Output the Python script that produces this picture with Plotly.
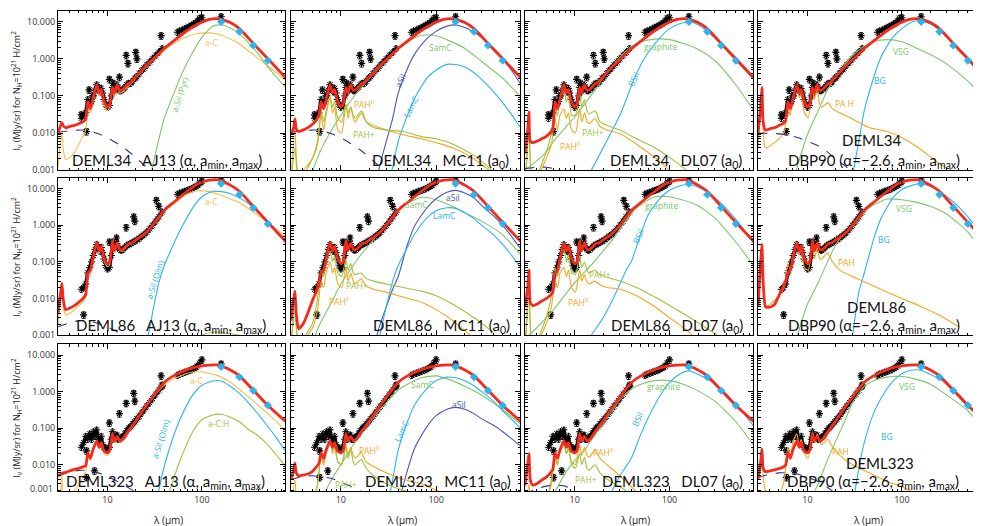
import plotly.graph_objects as go

# ---------------------------------------------------
# wavelength grids (micron)
# ---------------------------------------------------
LAM_SHORT = [3.0, 3.2, 3.3, 3.4, 3.6, 4.0, 4.5, 5.0, 5.5, 5.9]
LAM_LONG = [6.2, 6.6, 7.0, 7.7, 8.2, 8.6, 9.2, 10.0, 10.6, 11.3, 11.8, 12.7, 13.5, 14.5, 16.4,
            17.0, 18.0, 20, 24, 30, 40, 50, 70, 90, 120, 150, 200, 250, 350, 500, 800]
LAM_T = LAM_SHORT + LAM_LONG
LAM_P = [3.0, 3.3, 3.6, 5.0, 5.7, 6.2, 6.6, 7.0, 7.7, 8.2, 8.6, 9.3, 10.2, 11.3, 11.9, 12.7,
         13.5, 14.2, 16.4, 17.0, 18.5, 22, 30, 45, 70, 100, 150, 250, 400]
LAM_C = [3, 4, 5, 6, 8, 10, 13, 16, 20, 25, 30, 40, 50, 70, 100, 140, 200, 300, 500, 800]
LAM_B = [15, 20, 25, 30, 35, 40, 50, 60, 80, 100, 130, 160, 200, 250, 300, 400, 500, 600, 800]
LAM_S = [3, 4, 5, 6, 8, 10, 13, 16, 20, 25, 30, 40]
SPEC_LAM = [5.3, 5.6, 5.9, 6.2, 6.5, 6.8, 7.1, 7.4, 7.7, 8.0, 8.3, 8.6, 8.9, 9.2, 9.6, 10.0, 10.5,
            11.0, 11.3, 11.7, 12.1, 12.6, 13.0, 13.5, 14.0, 14.6, 15.3, 16.0, 16.8, 17.6, 18.5,
            19.5, 20.5, 21.7, 23.0, 24.5, 26, 28, 30, 32.5, 35, 38]
MIPS_LAM = [55, 58, 62, 66, 70, 74, 78, 82, 86, 90, 94]
PHOT_LAM = [160, 250, 350, 500]

# ---------------------------------------------------
# observations (MJy/sr for NH = 1e21 H/cm2)
# ---------------------------------------------------
SPEC_34 = [0.025, 0.03, 0.035, 0.08, 0.06, 0.07, 0.1, 0.14, 0.2, 0.17, 0.13, 0.16, 0.12, 0.08, 0.06,
           0.05, 0.055, 0.1, 0.17, 0.13, 0.15, 0.2, 0.16, 0.14, 0.14, 0.15, 0.17, 0.2, 0.22, 0.22,
           0.25, 0.3, 0.33, 0.4, 0.48, 0.56, 0.68, 0.82, 1.0, 1.25, 1.5, 1.9]
SPEC_86 = [0.018, 0.02, 0.025, 0.05, 0.07, 0.1, 0.15, 0.22, 0.3, 0.25, 0.2, 0.25, 0.18, 0.12, 0.08,
           0.065, 0.07, 0.15, 0.35, 0.25, 0.28, 0.32, 0.25, 0.22, 0.21, 0.22, 0.25, 0.28, 0.3, 0.32,
           0.34, 0.37, 0.4, 0.44, 0.5, 0.56, 0.65, 0.8, 1.0, 1.3, 1.7, 2.3]
SPEC_323 = [0.03, 0.04, 0.06, 0.05, 0.07, 0.05, 0.08, 0.06, 0.09, 0.05, 0.04, 0.06, 0.035, 0.03,
            0.028, 0.025, 0.03, 0.05, 0.08, 0.05, 0.06, 0.065, 0.05, 0.05, 0.055, 0.06, 0.07, 0.085,
            0.1, 0.11, 0.13, 0.15, 0.18, 0.21, 0.26, 0.32, 0.4, 0.5, 0.65, 0.85, 1.1, 1.4]
MIPS_34 = [5.2, 5.6, 6.0, 6.5, 7.0, 7.5, 8.0, 8.7, 9.3, 10.5, 12.5]
MIPS_86 = [7.0, 7.5, 8.0, 8.5, 9.0, 9.5, 10, 10.8, 11.5, 12.3, 13.5]
MIPS_323 = [2.8, 3.0, 3.2, 3.4, 3.6, 3.8, 4.0, 4.3, 4.6, 5.0, 6.0]
OUT_LAM_34 = [5.3, 6.0, 6.4, 7.0, 10.5, 11.5, 13.4, 15.8, 16.5, 20, 20.5, 37, 100, 160]
OUT_34 = [0.031, 0.011, 0.145, 0.1, 0.28, 0.22, 0.32, 1.24, 0.75, 1.5, 1.0, 4.2, 12.8, 13.6]
OUT_LAM_86 = [5.6, 10.5, 12.5, 15.8, 19, 19.5, 33, 35, 100, 160]
OUT_86 = [0.0036, 0.35, 0.45, 0.87, 1.7, 1.3, 4.8, 3.3, 16, 17]
OUT_LAM_323 = [6.0, 6.0, 7.3, 10.5, 13.4, 15.8, 19, 19.5, 37, 38, 100, 160]
OUT_323 = [0.024, 0.0045, 0.0068, 0.14, 0.25, 0.48, 0.9, 0.55, 2.7, 1.5, 7.4, 5.7]
PHOT_34 = [10, 5.4, 2.3, 0.9]
PHOT_86 = [13.7, 6.9, 3.0, 1.1]
PHOT_323 = [4.8, 2.5, 1.07, 0.42]

# ---------------------------------------------------
# total models
# ---------------------------------------------------
TOT_L_34 = [0.07, 0.045, 0.08, 0.2, 0.12, 0.15, 0.075, 0.05, 0.06, 0.17, 0.12, 0.2, 0.14, 0.15, 0.21,
            0.22, 0.25, 0.33, 0.55, 0.95, 1.9, 3.0, 5.8, 8.5, 11.5, 12.0, 9.5, 6.5, 2.6, 1.0, 0.28]
TOT_L_86 = [0.05, 0.06, 0.12, 0.33, 0.2, 0.27, 0.13, 0.09, 0.1, 0.38, 0.2, 0.33, 0.22, 0.22, 0.3,
            0.32, 0.33, 0.4, 0.55, 1.0, 2.6, 4.2, 8.5, 13.5, 17.0, 17.5, 12.5, 8.5, 3.3, 1.2, 0.33]
TOT_L_323 = [0.021, 0.015, 0.025, 0.045, 0.03, 0.04, 0.024, 0.021, 0.025, 0.072, 0.045, 0.06, 0.045,
             0.05, 0.08, 0.09, 0.11, 0.16, 0.32, 0.7, 1.8, 2.7, 4.0, 4.8, 5.3, 5.3, 3.9, 2.7, 1.1, 0.42, 0.14]
TOT_S_34 = [[0.0098, 0.016, 0.019, 0.016, 0.014, 0.015, 0.016, 0.018, 0.020, 0.024],
            [0.009, 0.014, 0.024, 0.013, 0.011, 0.012, 0.014, 0.017, 0.022, 0.03],
            [0.0028, 0.012, 0.037, 0.006, 0.0055, 0.006, 0.007, 0.008, 0.01, 0.013],
            [0.01, 0.05, 0.17, 0.02, 0.012, 0.013, 0.014, 0.016, 0.018, 0.022]]
TOT_S_86 = [[0.004, 0.015, 0.026, 0.01, 0.005, 0.0055, 0.0065, 0.008, 0.01, 0.013],
            [0.0025, 0.01, 0.016, 0.004, 0.0015, 0.002, 0.004, 0.0085, 0.015, 0.028],
            [0.006, 0.02, 0.06, 0.008, 0.0065, 0.007, 0.0085, 0.01, 0.012, 0.015],
            [0.006, 0.1, 0.3, 0.03, 0.006, 0.0058, 0.007, 0.012, 0.02, 0.03]]
TOT_S_323 = [[0.005, 0.0055, 0.0058, 0.006, 0.0062, 0.0068, 0.0075, 0.008, 0.0088, 0.0095],
             [0.004, 0.007, 0.011, 0.006, 0.005, 0.0052, 0.0056, 0.0065, 0.0085, 0.011],
             [0.0027, 0.01, 0.02, 0.004, 0.0028, 0.003, 0.0038, 0.0045, 0.0058, 0.0075],
             [0.004, 0.012, 0.027, 0.008, 0.0065, 0.0068, 0.0072, 0.0078, 0.0085, 0.01]]

# ---------------------------------------------------
# AJ13 components
# ---------------------------------------------------
AC_34 = [0.0012, 0.006, 0.01, 0.004, 0.0019, 0.0022, 0.003, 0.005, 0.008, 0.012,
         0.055, 0.035, 0.065, 0.17, 0.1, 0.13, 0.06, 0.04, 0.05, 0.15, 0.1, 0.17, 0.12, 0.13, 0.18,
         0.19, 0.22, 0.3, 0.5, 0.9, 1.7, 2.6, 4.0, 4.8, 5.0, 4.6, 3.4, 2.5, 1.3, 0.65, 0.24]
AC_86 = [0.002, 0.01, 0.02, 0.006, 0.0035, 0.004, 0.005, 0.0065, 0.008, 0.011,
         0.04, 0.05, 0.1, 0.3, 0.17, 0.24, 0.11, 0.075, 0.085, 0.34, 0.18, 0.3, 0.2, 0.2, 0.28,
         0.3, 0.31, 0.38, 0.53, 0.95, 2.4, 3.8, 7.2, 8.8, 8.3, 7.0, 5.2, 4.1, 2.3, 1.2, 0.45]
AC_323 = [0.0008, 0.002, 0.005, 0.0012, 0.0012, 0.0015, 0.002, 0.003, 0.0045, 0.0065,
          0.018, 0.013, 0.022, 0.04, 0.027, 0.035, 0.02, 0.018, 0.022, 0.065, 0.04, 0.055, 0.04, 0.045,
          0.075, 0.085, 0.1, 0.15, 0.3, 0.65, 1.5, 2.2, 3.2, 3.5, 3.2, 2.7, 1.8, 1.15, 0.55, 0.25, 0.08]
ASIL_PYR_34 = [1e-6, 1e-5, 0.0001, 0.0012, 0.0067, 0.025, 0.11, 0.35, 1.5, 3.8, 7.5, 8.3, 6.8, 4.7,
               3.0, 1.3, 0.6, 0.35, 0.15]
ASIL_OLM_86 = [1e-7, 1e-5, 0.0003, 0.004, 0.027, 0.08, 0.3, 0.8, 3.0, 6.0, 8.5, 8.3, 7.3, 5.6, 4.2,
               2.2, 1.25, 0.75, 0.3]
ASIL_OLM_323 = [1e-8, 1e-7, 1e-5, 0.0003, 0.002, 0.009, 0.06, 0.2, 0.8, 1.5, 1.95, 1.95, 1.4, 0.9,
                0.55, 0.23, 0.11, 0.06, 0.02]
ACH_86 = [1e-9, 1e-8, 1e-7, 1e-6, 1e-5, 5e-5, 0.0002, 0.0004, 0.0007, 0.001, 0.0012, 0.0012, 0.0011,
          0.001, 0.0008, 0.0006, 0.0004, 0.0003, 0.00015]
ACH_323 = [1e-8, 1e-7, 1e-6, 1e-5, 0.0001, 0.0006, 0.004, 0.015, 0.08, 0.17, 0.23, 0.24, 0.2, 0.15,
           0.1, 0.06, 0.035, 0.02, 0.008]

# ---------------------------------------------------
# MC11 components
# ---------------------------------------------------
SAMC_34 = [0.00005, 0.0003, 0.0009, 0.003, 0.012, 0.03, 0.08, 0.16, 0.3, 0.55, 0.9, 1.8, 2.8, 4.3,
           4.2, 3.0, 1.9, 0.85, 0.3, 0.085]
SAMC_86 = [1e-5, 0.0001, 0.0006, 0.002, 0.008, 0.025, 0.07, 0.15, 0.3, 0.6, 1.0, 2.5, 4.0, 5.8, 5.0,
           3.5, 2.2, 1.3, 0.55, 0.14]
SAMC_323 = [1e-5, 5e-5, 0.0002, 0.0008, 0.004, 0.01, 0.03, 0.065, 0.14, 0.3, 0.5, 1.1, 1.6, 2.4, 2.7,
            2.1, 1.4, 0.8, 0.32, 0.12]
ASIL_34 = [1e-7, 1e-5, 0.001, 0.006, 0.025, 0.12, 0.55, 1.4, 3.5, 5.5, 7.6, 8.2, 7.0, 5.2, 3.8, 1.9,
           1.0, 0.55, 0.18]
ASIL_86 = [1e-7, 0.0001, 0.0015, 0.006, 0.018, 0.04, 0.3, 1.0, 3.0, 5.3, 8.0, 9.0, 7.6, 5.5, 3.5, 1.8,
           1.0, 0.55, 0.2]
ASIL_323 = [1e-9, 1e-8, 1e-7, 1e-6, 1e-5, 0.0007, 0.007, 0.03, 0.11, 0.22, 0.33, 0.37, 0.33, 0.25,
            0.18, 0.12, 0.08, 0.055, 0.03]
LAMC_34 = [1e-8, 1e-6, 1e-5, 0.0003, 0.0012, 0.006, 0.03, 0.09, 0.3, 0.5, 0.71, 0.7, 0.6, 0.42, 0.28,
           0.13, 0.065, 0.035, 0.012]
LAMC_86 = [1e-7, 1e-5, 0.0007, 0.006, 0.03, 0.08, 0.25, 0.6, 1.6, 2.5, 3.0, 2.9, 2.2, 1.5, 1.0, 0.55,
           0.3, 0.17, 0.06]
LAMC_323 = [1e-8, 1e-6, 5e-5, 0.0005, 0.004, 0.025, 0.15, 0.45, 1.2, 2.0, 2.5, 2.4, 2.0, 1.45, 1.0,
            0.55, 0.3, 0.19, 0.09]
PAH0_34_MC = [0.0005, 0.012, 0.0008, 0.002, 0.005, 0.03, 0.012, 0.03, 0.085, 0.035, 0.05, 0.012, 0.01,
              0.06, 0.025, 0.05, 0.025, 0.02, 0.035, 0.03, 0.02, 0.016, 0.012, 0.009, 0.007, 0.0055,
              0.004, 0.002, 0.0008]
PAHP_34_MC = [0.0004, 0.004, 0.0005, 0.002, 0.006, 0.04, 0.02, 0.04, 0.1, 0.05, 0.07, 0.025, 0.02,
              0.06, 0.035, 0.05, 0.03, 0.025, 0.04, 0.035, 0.02, 0.014, 0.012, 0.011, 0.008, 0.007,
              0.005, 0.0025, 0.0009]
PAH0_86_MC = [0.0005, 0.01, 0.0006, 0.0015, 0.005, 0.03, 0.02, 0.05, 0.1, 0.05, 0.07, 0.025, 0.02,
              0.07, 0.03, 0.05, 0.03, 0.025, 0.035, 0.03, 0.022, 0.018, 0.015, 0.011, 0.008, 0.005,
              0.0025, 0.0008, 0.0003]
PAHP_86_MC = [0.0005, 0.005, 0.0006, 0.002, 0.01, 0.06, 0.04, 0.09, 0.2, 0.1, 0.15, 0.05, 0.04, 0.12,
              0.06, 0.09, 0.05, 0.045, 0.05, 0.045, 0.035, 0.03, 0.025, 0.02, 0.016, 0.012, 0.007,
              0.003, 0.0012]
PAH0_323_MC = [0.0003, 0.004, 0.0003, 0.001, 0.003, 0.015, 0.01, 0.02, 0.045, 0.02, 0.03, 0.012, 0.01,
               0.035, 0.018, 0.03, 0.018, 0.015, 0.022, 0.018, 0.012, 0.009, 0.006, 0.004, 0.003,
               0.002, 0.0014, 0.0007, 0.0003]
PAHP_323_MC = [0.0002, 0.002, 0.0002, 0.0008, 0.003, 0.02, 0.012, 0.025, 0.05, 0.025, 0.035, 0.012,
               0.01, 0.03, 0.015, 0.025, 0.012, 0.01, 0.014, 0.012, 0.008, 0.005, 0.003, 0.002,
               0.0015, 0.001, 0.0006, 0.0003, 0.0001]

# ---------------------------------------------------
# DL07 components
# ---------------------------------------------------
GRAPH_34 = [0.001, 0.0018, 0.003, 0.006, 0.014, 0.027, 0.065, 0.13, 0.3, 0.65, 1.1, 2.2, 2.9, 3.4,
            3.3, 2.6, 1.8, 0.9, 0.2, 0.035]
GRAPH_86 = [0.0008, 0.0016, 0.003, 0.005, 0.013, 0.027, 0.056, 0.1, 0.2, 0.4, 0.8, 2.2, 3.6, 6.0, 6.0,
            4.8, 3.4, 1.6, 0.35, 0.07]
GRAPH_323 = [0.0003, 0.0006, 0.001, 0.0016, 0.006, 0.013, 0.027, 0.06, 0.14, 0.3, 0.6, 1.2, 1.6, 2.0,
             2.0, 1.6, 1.05, 0.55, 0.15, 0.03]
BSIL_34 = [0.001, 0.004, 0.012, 0.03, 0.08, 0.2, 0.7, 1.5, 3.8, 6.5, 9.0, 10.0, 8.3, 5.5, 3.6, 1.7,
           0.9, 0.55, 0.25]
BSIL_86 = [0.001, 0.003, 0.009, 0.025, 0.06, 0.11, 0.6, 2.0, 5.5, 9.0, 12.0, 13.0, 11.0, 8.2, 5.8,
           2.8, 1.45, 0.8, 0.28]
BSIL_323 = [1e-6, 0.0004, 0.002, 0.005, 0.009, 0.016, 0.07, 0.2, 0.8, 1.8, 3.1, 3.7, 3.0, 2.2, 1.6,
            0.85, 0.45, 0.26, 0.1]
PAH0_34_DL = [0.0003, 0.02, 0.0004, 0.002, 0.005, 0.025, 0.012, 0.03, 0.045, 0.025, 0.035, 0.012, 0.01,
              0.045, 0.02, 0.035, 0.02, 0.018, 0.025, 0.022, 0.015, 0.012, 0.0095, 0.005, 0.0022,
              0.001, 0.0004, 0.0001, 0.00004]
PAHP_34_DL = [0.0003, 0.008, 0.0004, 0.003, 0.01, 0.06, 0.03, 0.08, 0.14, 0.07, 0.1, 0.03, 0.03, 0.12,
              0.05, 0.08, 0.04, 0.033, 0.04, 0.035, 0.02, 0.016, 0.012, 0.007, 0.004, 0.0022, 0.001,
              0.0003, 0.0001]
PAH0_86_DL = [0.0003, 0.06, 0.0004, 0.002, 0.006, 0.03, 0.02, 0.05, 0.07, 0.04, 0.06, 0.02, 0.015,
              0.06, 0.03, 0.045, 0.028, 0.025, 0.03, 0.028, 0.024, 0.02, 0.018, 0.012, 0.006, 0.003,
              0.0014, 0.0004, 0.0001]
PAHP_86_DL = [0.0003, 0.01, 0.0004, 0.003, 0.012, 0.07, 0.04, 0.1, 0.22, 0.1, 0.16, 0.05, 0.045, 0.15,
              0.07, 0.1, 0.06, 0.05, 0.06, 0.055, 0.045, 0.038, 0.03, 0.02, 0.011, 0.0065, 0.0035,
              0.0015, 0.0007]
PAH0_323_DL = [0.0002, 0.003, 0.0002, 0.001, 0.003, 0.015, 0.01, 0.022, 0.035, 0.02, 0.028, 0.012,
               0.01, 0.035, 0.018, 0.03, 0.018, 0.016, 0.025, 0.022, 0.015, 0.01, 0.005, 0.0018,
               0.0007, 0.0003, 0.0001, 0.00003, 0.00001]
PAHP_323_DL = [0.0002, 0.002, 0.0002, 0.001, 0.004, 0.02, 0.01, 0.025, 0.04, 0.02, 0.03, 0.01, 0.008,
               0.02, 0.01, 0.016, 0.008, 0.007, 0.01, 0.009, 0.006, 0.004, 0.0025, 0.0012, 0.0005,
               0.0002, 0.0001, 0.00003, 0.00001]

# ---------------------------------------------------
# DBP90 components
# ---------------------------------------------------
VSG_34 = [1e-7, 1e-6, 1e-5, 0.0001, 0.0015, 0.009, 0.04, 0.13, 0.33, 0.7, 1.2, 2.2, 2.9, 3.3, 2.9,
          2.0, 1.3, 0.72, 0.25, 0.07]
VSG_86 = [1e-7, 1e-6, 1e-5, 0.0001, 0.0012, 0.007, 0.027, 0.09, 0.3, 0.6, 0.9, 2.3, 3.6, 5.2, 5.0,
          4.3, 3.3, 2.0, 0.65, 0.12]
VSG_323 = [1e-7, 1e-6, 1e-5, 5e-5, 0.0003, 0.0008, 0.003, 0.012, 0.045, 0.16, 0.5, 1.4, 2.0, 2.5, 2.6,
           2.2, 1.6, 0.8, 0.3, 0.07]
BG_34 = [1e-8, 1e-6, 5e-5, 0.0007, 0.006, 0.04, 0.3, 1.1, 3.8, 6.5, 10, 10.5, 8.7, 6.0, 4.0, 1.9, 0.95,
         0.55, 0.22]
BG_86 = [1e-8, 1e-6, 0.0001, 0.001, 0.015, 0.05, 0.4, 1.5, 5.5, 9.5, 12.5, 13.6, 11.5, 8.5, 6.0, 3.2,
         1.7, 0.95, 0.35]
BG_323 = [1e-8, 1e-6, 3e-5, 0.0007, 0.008, 0.04, 0.25, 0.65, 1.9, 3.1, 3.9, 3.8, 3.0, 2.2, 1.6, 0.85,
          0.45, 0.26, 0.11]
PAH_34_DB = [0.004, 0.17, 0.004, 0.007, 0.011, 0.05, 0.03, 0.09, 0.18, 0.09, 0.12, 0.035, 0.026, 0.17,
             0.08, 0.17, 0.06, 0.05, 0.065, 0.06, 0.045, 0.035, 0.024, 0.014, 0.011, 0.0075, 0.004,
             0.0015, 0.0008]
PAH_86_DB = [0.006, 0.3, 0.006, 0.012, 0.02, 0.09, 0.06, 0.15, 0.3, 0.16, 0.22, 0.07, 0.06, 0.3, 0.12,
             0.25, 0.12, 0.12, 0.18, 0.15, 0.1, 0.06, 0.04, 0.025, 0.015, 0.01, 0.0065, 0.0035, 0.0017]
PAH_323_DB = [0.004, 0.02, 0.002, 0.0015, 0.004, 0.03, 0.015, 0.04, 0.07, 0.035, 0.05, 0.02, 0.015,
              0.08, 0.04, 0.07, 0.04, 0.035, 0.05, 0.045, 0.03, 0.018, 0.01, 0.006, 0.0035, 0.0025,
              0.0015, 0.0008, 0.0004]

# stellar continua
STAR_34 = [0.0105, 0.0115, 0.012, 0.012, 0.0095, 0.0075, 0.005, 0.0035, 0.0022, 0.0013, 0.0009, 0.0005]
STAR_34_DL = [0.0011, 0.0012, 0.0012, 0.0011, 0.0009, 0.0007, 0.0005, 0.0003, 0.0002, 0.0001, 0.00007,
              0.00004]
STAR_34_DB = [0.01, 0.0098, 0.0095, 0.009, 0.0075, 0.006, 0.0045, 0.0032, 0.002, 0.0013, 0.0009, 0.0005]
STAR_86 = [0.0017, 0.0022, 0.0025, 0.0025, 0.0021, 0.0017, 0.0012, 0.0009, 0.0006, 0.0004, 0.0003,
           0.00015]
STAR_323 = [0.005, 0.0063, 0.007, 0.007, 0.006, 0.0048, 0.0034, 0.0025, 0.0018, 0.0013, 0.001, 0.0005]
STAR_323_MC = [0.004, 0.0048, 0.005, 0.0048, 0.0042, 0.0033, 0.0025, 0.0019, 0.0014, 0.001, 0.0007,
               0.0004]
STAR_323_DL = [0.0015, 0.0022, 0.0026, 0.0028, 0.0026, 0.0018, 0.0011, 0.0007, 0.0004, 0.0002, 0.0001,
               0.00005]
STAR_323_DB = [0.0045, 0.0055, 0.006, 0.006, 0.0055, 0.0045, 0.0035, 0.0025, 0.0016, 0.001, 0.0006,
               0.0003]

# ---------------------------------------------------
# styling / layout
# ---------------------------------------------------
W, H = 981, 526
COL_PX = [(50, 277), (283, 512), (517, 745), (750, 977)]
ROW_PX = [(3, 164), (172, 331), (340, 489)]
Y_RANGES = [[-3, 1.29], [-3, 1.29], [-2.73, 1.3]]
X_RANGE = [0.477, 2.88]

RED = '#f52a1d'
GREEN = '#7cc86a'
LBLUE = '#2cb4ec'
NAVY = '#4b59b4'
ORANGE = '#f7a521'
ORANGE_LT = '#fbbd4a'
YGREEN = '#9ec43a'
DASH = '#3c2d8e'
FONT = 'Lato'


def px(x):
    return x / W


def py(y):
    return 1 - y / H


ROWS = [
    dict(name='DEML34', spec=SPEC_34, mips=MIPS_34, out_lam=OUT_LAM_34, out=OUT_34,
         phot=PHOT_34, tot_long=TOT_L_34, tot_short=TOT_S_34),
    dict(name='DEML86', spec=SPEC_86, mips=MIPS_86, out_lam=OUT_LAM_86, out=OUT_86,
         phot=PHOT_86, tot_long=TOT_L_86, tot_short=TOT_S_86),
    dict(name='DEML323', spec=SPEC_323, mips=MIPS_323, out_lam=OUT_LAM_323, out=OUT_323,
         phot=PHOT_323, tot_long=TOT_L_323, tot_short=TOT_S_323),
]

# components per panel: (grid, values, colour, dash)
COMPS = {
    (0, 0): [(LAM_T, AC_34, ORANGE_LT, 'solid'), (LAM_B, ASIL_PYR_34, GREEN, 'solid'),
             (LAM_S, STAR_34, DASH, 'dash')],
    (0, 1): [(LAM_C, SAMC_34, GREEN, 'solid'), (LAM_B, ASIL_34, NAVY, 'solid'),
             (LAM_B, LAMC_34, LBLUE, 'solid'), (LAM_P, PAH0_34_MC, ORANGE, 'solid'),
             (LAM_P, PAHP_34_MC, YGREEN, 'solid'), (LAM_S, STAR_34, DASH, 'dash')],
    (0, 2): [(LAM_C, GRAPH_34, GREEN, 'solid'), (LAM_B, BSIL_34, LBLUE, 'solid'),
             (LAM_P, PAH0_34_DL, ORANGE, 'solid'), (LAM_P, PAHP_34_DL, YGREEN, 'solid'),
             (LAM_S, STAR_34_DL, DASH, 'dash')],
    (0, 3): [(LAM_C, VSG_34, GREEN, 'solid'), (LAM_B, BG_34, LBLUE, 'solid'),
             (LAM_P, PAH_34_DB, ORANGE, 'solid'), (LAM_S, STAR_34_DB, DASH, 'dash')],
    (1, 0): [(LAM_T, AC_86, ORANGE_LT, 'solid'), (LAM_B, ASIL_OLM_86, LBLUE, 'solid'),
             (LAM_B, ACH_86, YGREEN, 'solid'), (LAM_S, STAR_86, DASH, 'dash')],
    (1, 1): [(LAM_C, SAMC_86, GREEN, 'solid'), (LAM_B, ASIL_86, NAVY, 'solid'),
             (LAM_B, LAMC_86, LBLUE, 'solid'), (LAM_P, PAH0_86_MC, ORANGE, 'solid'),
             (LAM_P, PAHP_86_MC, YGREEN, 'solid')],
    (1, 2): [(LAM_C, GRAPH_86, GREEN, 'solid'), (LAM_B, BSIL_86, LBLUE, 'solid'),
             (LAM_P, PAH0_86_DL, ORANGE, 'solid'), (LAM_P, PAHP_86_DL, YGREEN, 'solid')],
    (1, 3): [(LAM_C, VSG_86, GREEN, 'solid'), (LAM_B, BG_86, LBLUE, 'solid'),
             (LAM_P, PAH_86_DB, ORANGE, 'solid')],
    (2, 0): [(LAM_T, AC_323, ORANGE_LT, 'solid'), (LAM_B, ASIL_OLM_323, LBLUE, 'solid'),
             (LAM_B, ACH_323, YGREEN, 'solid'), (LAM_S, STAR_323, DASH, 'dash')],
    (2, 1): [(LAM_C, SAMC_323, GREEN, 'solid'), (LAM_B, LAMC_323, LBLUE, 'solid'),
             (LAM_B, ASIL_323, NAVY, 'solid'), (LAM_P, PAH0_323_MC, ORANGE, 'solid'),
             (LAM_P, PAHP_323_MC, YGREEN, 'solid'), (LAM_S, STAR_323_MC, DASH, 'dash')],
    (2, 2): [(LAM_C, GRAPH_323, GREEN, 'solid'), (LAM_B, BSIL_323, LBLUE, 'solid'),
             (LAM_P, PAH0_323_DL, ORANGE, 'solid'), (LAM_P, PAHP_323_DL, YGREEN, 'solid'),
             (LAM_S, STAR_323_DL, DASH, 'dash')],
    (2, 3): [(LAM_C, VSG_323, GREEN, 'solid'), (LAM_B, BG_323, LBLUE, 'solid'),
             (LAM_P, PAH_323_DB, ORANGE, 'solid'), (LAM_S, STAR_323_DB, DASH, 'dash')],
}

MODEL_TEXT = ['AJ13 (α, a<sub>min</sub>, a<sub>max</sub>)', 'MC11 (a<sub>0</sub>)',
              'DL07 (a<sub>0</sub>)', 'DBP90 (α=−2.6, a<sub>min</sub>, a<sub>max</sub>)']

# left edge (px) of each panel's name label
LABEL_LEFT = [[72, 372, 610, 788], [76, 373, 611, 788], [66, 365, 602, 787]]
NAME_POS = [(863, 134), (868, 302), (872, 460)]

# component labels: (row, col, text, colour, x px, y px, angle)
LABELS = [
    (0, 0, 'a-C', ORANGE_LT, 203, 35, 0), (0, 0, 'a-Sil (Pyr)', GREEN, 172, 88, -72),
    (0, 1, 'SamC', GREEN, 432, 40, 0), (0, 1, 'aSil', NAVY, 392, 73, -65),
    (0, 1, 'LamC', LBLUE, 403, 100, -62), (0, 1, 'PAH<sup>0</sup>', ORANGE, 356, 97, 0),
    (0, 1, 'PAH+', YGREEN, 356, 128, 0),
    (0, 2, 'graphite', GREEN, 652, 39, 0), (0, 2, 'BSil', LBLUE, 625, 72, -65),
    (0, 2, 'PAH+', YGREEN, 585, 126, 0), (0, 2, 'PAH<sup>0</sup>', ORANGE, 562, 140, 0),
    (0, 3, 'VSG', GREEN, 893, 44, 0), (0, 3, 'BG', LBLUE, 872, 73, 0),
    (0, 3, 'PA H', ORANGE, 836, 97, 0),
    (1, 0, 'a-C', ORANGE_LT, 203, 196, 0), (1, 0, 'a-Sil (Olm)', LBLUE, 147, 275, -72),
    (1, 1, 'SamC', GREEN, 408, 199, 0), (1, 1, 'aSil', NAVY, 445, 192, 0),
    (1, 1, 'LamC', LBLUE, 436, 210, 0), (1, 1, 'PAH+', YGREEN, 349, 281, 0),
    (1, 1, 'PAH<sup>0</sup>', ORANGE, 331, 296, 0),
    (1, 2, 'graphite', GREEN, 653, 200, 0), (1, 2, 'BSil', LBLUE, 630, 231, -65),
    (1, 2, 'PAH+', YGREEN, 592, 270, 0), (1, 2, 'PAH<sup>0</sup>', ORANGE, 570, 297, 0),
    (1, 3, 'VSG', GREEN, 896, 203, 0), (1, 3, 'BG', LBLUE, 876, 234, 0),
    (1, 3, 'PAH', ORANGE, 838, 257, 0),
    (2, 0, 'a-C', ORANGE_LT, 188, 377, 0), (2, 0, 'a-Sil (Olm)', LBLUE, 152, 436, -72),
    (2, 0, 'a-C:H', YGREEN, 210, 420, 0),
    (2, 1, 'SamC', GREEN, 414, 381, 0), (2, 1, 'LamC', LBLUE, 393, 428, -65),
    (2, 1, 'aSil', NAVY, 451, 401, 0), (2, 1, 'PAH<sup>0</sup>', ORANGE, 361, 447, 0),
    (2, 1, 'PAH+', YGREEN, 338, 482, 0),
    (2, 2, 'graphite', GREEN, 655, 383, 0), (2, 2, 'BSil', LBLUE, 629, 416, -65),
    (2, 2, 'PAH<sup>0</sup>', ORANGE, 595, 449, 0), (2, 2, 'PAH+', YGREEN, 578, 477, 0),
    (2, 3, 'VSG', GREEN, 899, 383, 0), (2, 3, 'BG', LBLUE, 879, 433, 0),
    (2, 3, 'PAH', ORANGE, 832, 449, 0),
]

fig = go.Figure()
layout = dict(width=W, height=H, margin=dict(l=0, r=0, t=0, b=0), showlegend=False,
              paper_bgcolor='white', plot_bgcolor='white')
annotations = []

for r, row in enumerate(ROWS):
    for c in range(4):
        k = r * 4 + c + 1
        xa = 'x' if k == 1 else 'x%d' % k
        ya = 'y' if k == 1 else 'y%d' % k
        x0, x1 = COL_PX[c]
        y0, y1 = ROW_PX[r]

        axis_style = dict(type='log', showline=True, linecolor='black', linewidth=1,
                          mirror='ticks', ticks='inside', ticklen=5, tickwidth=1,
                          tickcolor='black', showgrid=False, zeroline=False,
                          dtick=1, tick0=0,
                          minor=dict(ticks='inside', ticklen=2.5, tickcolor='black',
                                     showgrid=False, dtick='D1'),
                          tickfont=dict(size=9, family='Open Sans', color='#333'))
        layout['xaxis' if k == 1 else 'xaxis%d' % k] = dict(
            axis_style, domain=[px(x0), px(x1)], range=X_RANGE, anchor=ya,
            showticklabels=(r == 2))
        layout['yaxis' if k == 1 else 'yaxis%d' % k] = dict(
            axis_style, domain=[py(y1), py(y0)], range=Y_RANGES[r], anchor=xa,
            showticklabels=(c == 0), tickformat='.3f')

        # observed spectrum (IRS + MIPS SED)
        for lam, val in [(SPEC_LAM, row['spec']), (MIPS_LAM, row['mips'])]:
            fig.add_trace(go.Scatter(
                x=lam, y=val, mode='lines+markers', xaxis=xa, yaxis=ya,
                line=dict(color='black', width=3.5),
                marker=dict(symbol='asterisk-open', size=6, color='black',
                            line=dict(width=1, color='black')),
                error_y=dict(type='percent', value=18, color='black', thickness=0.8, width=1.5)))
        # photometric points
        fig.add_trace(go.Scatter(
            x=row['out_lam'], y=row['out'], mode='markers', xaxis=xa, yaxis=ya,
            marker=dict(symbol='asterisk-open', size=6, color='black',
                        line=dict(width=1.2, color='black')),
            error_y=dict(type='percent', value=20, color='black', thickness=0.9, width=2)))

        # model components
        for grid, vals, col, dash in COMPS[(r, c)]:
            fig.add_trace(go.Scatter(
                x=grid, y=vals, mode='lines', xaxis=xa, yaxis=ya,
                line=dict(color=col, width=1.1, dash=dash, shape='spline', smoothing=0.6)))

        # total model
        fig.add_trace(go.Scatter(
            x=LAM_SHORT + LAM_LONG, y=row['tot_short'][c] + row['tot_long'],
            mode='lines', xaxis=xa, yaxis=ya,
            line=dict(color=RED, width=2.8, shape='spline', smoothing=0.5)))

        # Herschel photometry
        fig.add_trace(go.Scatter(
            x=PHOT_LAM, y=row['phot'], mode='markers', xaxis=xa, yaxis=ya,
            marker=dict(symbol='diamond', size=6, color=LBLUE, line=dict(width=0.5, color=LBLUE)),
            error_y=dict(type='percent', value=8, color=LBLUE, thickness=1, width=2)))

        # panel label (rendered text sits ~10 px right of the anchor, so compensate)
        lab_font = dict(family=FONT, size=15, color='#111')
        left = LABEL_LEFT[r][c]
        lab_text = MODEL_TEXT[c] if c == 3 else row['name'] + '\u00a0\u00a0 ' + MODEL_TEXT[c]
        annotations.append(dict(
            text=lab_text, xref='paper', yref='paper', x=px(left - 10), y=py(y1 + 3),
            xanchor='left', yanchor='bottom', showarrow=False, font=lab_font))
        if c == 3:
            nx, ny = NAME_POS[r]
            annotations.append(dict(
                text=row['name'], xref='paper', yref='paper', x=px(nx), y=py(ny),
                xanchor='center', yanchor='middle', showarrow=False,
                font=dict(family=FONT, size=15, color='#111')))

    # y title for the row
    annotations.append(dict(
        text='I<sub>ν</sub> (MJy/sr) for N<sub>H</sub>=10<sup>21</sup> H/cm<sup>2</sup>',
        xref='paper', yref='paper', x=px(9), y=py((ROW_PX[r][0] + ROW_PX[r][1]) / 2),
        xanchor='center', yanchor='middle', textangle=-90, showarrow=False,
        font=dict(family='Open Sans', size=9, color='#222')))

# bottom tick label of the shorter last row
annotations.append(dict(text='0.001', xref='paper', yref='paper', x=px(47), y=py(486),
                        xanchor='right', yanchor='middle', showarrow=False,
                        font=dict(family='Open Sans', size=9, color='#333')))

# x titles
for c in range(4):
    x0, x1 = COL_PX[c]
    annotations.append(dict(text='λ (μm)', xref='paper', yref='paper', x=px((x0 + x1) / 2 - 4),
                            y=py(518), xanchor='center', yanchor='middle', showarrow=False,
                            font=dict(family='Open Sans', size=10, color='#222')))

# component labels
for r, c, text, col, lx, ly, ang in LABELS:
    annotations.append(dict(text=text, xref='paper', yref='paper', x=px(lx), y=py(ly),
                            xanchor='center', yanchor='middle', textangle=ang, showarrow=False,
                            font=dict(family='Open Sans', size=8.5, color=col)))

layout['annotations'] = annotations
fig.update_layout(**layout)

fig.write_html("out.html")
